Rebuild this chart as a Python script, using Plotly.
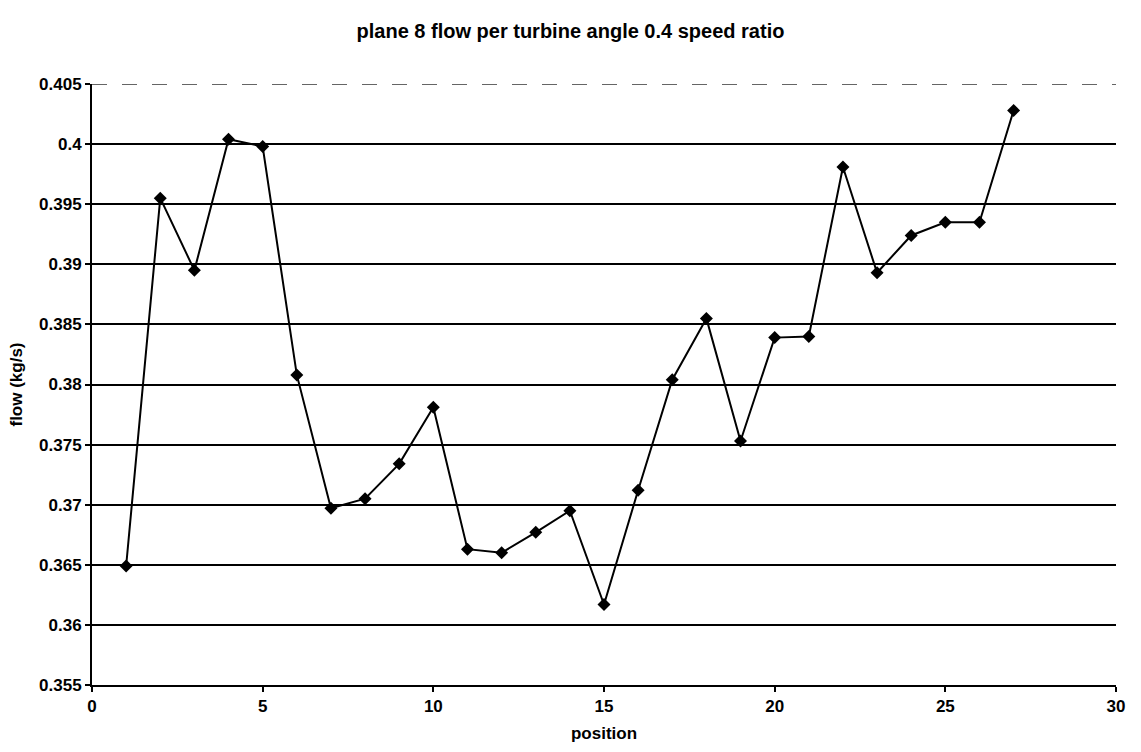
import plotly.graph_objects as go

# Flow per turbine position, plane 8, turbine angle 0.4 speed ratio
position = list(range(1, 28))
flow = [0.3649, 0.3955, 0.3895, 0.4004, 0.3998, 0.3808, 0.3697, 0.3705, 0.3734,
        0.3781, 0.3663, 0.3660, 0.3677, 0.3695, 0.3617, 0.3712, 0.3804, 0.3855,
        0.3753, 0.3839, 0.3840, 0.3981, 0.3893, 0.3924, 0.3935, 0.3935, 0.4028]

y_ticks = [0.355, 0.36, 0.365, 0.37, 0.375, 0.38, 0.385, 0.39, 0.395, 0.4, 0.405]
y_tick_text = ["0.355", "0.36", "0.365", "0.37", "0.375", "0.38", "0.385",
               "0.39", "0.395", "0.4", "0.405"]
x_ticks = [0, 5, 10, 15, 20, 25, 30]

FONT = "Liberation Sans, Arial, sans-serif"

fig = go.Figure()
fig.add_trace(go.Scatter(
    x=position, y=flow, mode="lines+markers",
    line=dict(color="black", width=2),
    marker=dict(symbol="diamond", size=10, color="black"),
    showlegend=False,
))

# faint broken gridline along the top of the plot area
fig.add_shape(
    type="line", xref="paper", x0=0, x1=1, yref="y", y0=y_ticks[-1], y1=y_ticks[-1],
    line=dict(color="#333333", width=1.5, dash="longdash"), layer="below",
)

fig.update_layout(
    width=1141, height=752,
    margin=dict(l=92, r=25, t=84, b=65),
    paper_bgcolor="white", plot_bgcolor="white",
    font=dict(family=FONT, color="black", size=16),
    title=dict(
        text="<b>plane 8 flow per turbine angle 0.4 speed ratio</b>",
        x=0.5, xref="container", xanchor="center",
        y=1 - 31 / 752, yref="container", yanchor="middle",
        font=dict(size=20, family=FONT, color="black"),
    ),
    xaxis=dict(
        range=[0, 30], tickvals=x_ticks,
        ticktext=[f"<b>{v}</b>" for v in x_ticks],
        tickfont=dict(size=17),
        showline=True, linecolor="black", linewidth=2,
        ticks="outside", ticklen=5, tickcolor="black", tickwidth=1.5,
        showgrid=False, zeroline=False,
        title=dict(text="<b>position</b>", font=dict(size=17), standoff=12),
    ),
    yaxis=dict(
        range=[0.355, 0.405], tickvals=y_ticks,
        ticktext=[f"<b>{t}</b>" for t in y_tick_text],
        tickfont=dict(size=17),
        showline=True, linecolor="black", linewidth=2,
        ticks="outside", ticklen=5, tickcolor="black", tickwidth=1.5,
        showgrid=True, gridcolor="black", gridwidth=1.5, zeroline=False,
        title=dict(text="<b>flow (kg/s)</b>", font=dict(size=17), standoff=12),
    ),
)

fig.write_html("out.html")
